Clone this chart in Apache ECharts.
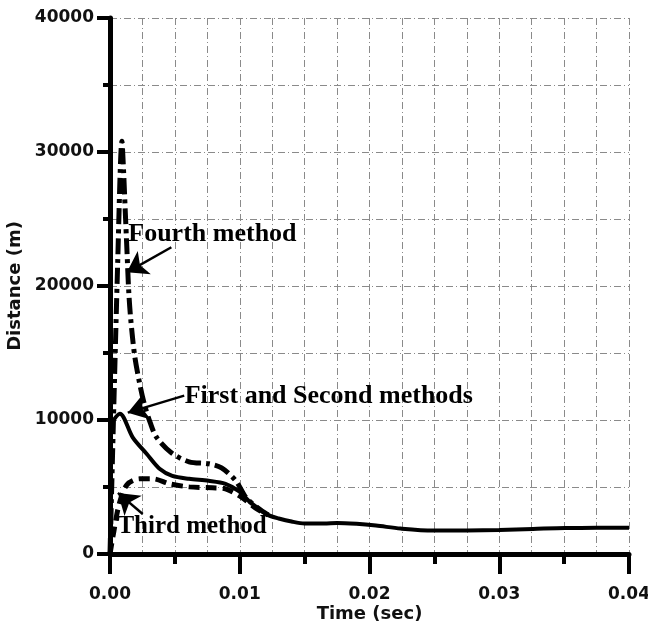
<!DOCTYPE html>
<html>
<head>
<meta charset="utf-8">
<title>Distance vs Time</title>
<script src="https://cdn.jsdelivr.net/npm/echarts@6/dist/echarts.min.js"></script>
<style>
  html, body { margin: 0; padding: 0; background: #fff; }
  #e1 { width: 648px; height: 626px; }
</style>
</head>
<body>
<div id="e1"></div>
<script>
// axis ticks
var xTicks = [0, 0.01, 0.02, 0.03, 0.04];
var yTicks = [0, 10000, 20000, 30000, 40000];

// First and Second methods (solid)
var solidT = [0, 0.00076, 0.00176, 0.00282, 0.00382, 0.0048, 0.0061, 0.0076, 0.0089, 0.0099, 0.0107, 0.0115, 0.0122, 0.0130, 0.0140, 0.0150, 0.0165, 0.0175, 0.0190, 0.0205, 0.0224, 0.0249, 0.0275, 0.0300, 0.0326, 0.0351, 0.0375, 0.0400];
var solidD = [9600, 10470, 8680, 7480, 6360, 5830, 5610, 5460, 5240, 4710, 3960, 3350, 2900, 2650, 2420, 2280, 2280, 2320, 2250, 2120, 1900, 1750, 1760, 1800, 1870, 1940, 1950, 1950];

// Fourth method (dash dot)
var fourthT = [0, 0.0006, 0.00092, 0.00105, 0.00118, 0.0013, 0.00145, 0.0016, 0.0019, 0.00229, 0.00267, 0.0031, 0.00359, 0.00473, 0.0061, 0.0076, 0.0086, 0.0097, 0.0105, 0.0114, 0.0122];
var fourthD = [0, 22000, 30800, 28500, 25500, 22800, 19500, 17500, 14800, 12700, 11100, 9800, 8700, 7550, 6880, 6730, 6430, 5460, 4190, 3440, 2900];

// Third method (dashed)
var thirdT = [0, 0.0003, 0.0007, 0.0013, 0.00229, 0.0033, 0.0046, 0.0061, 0.0079, 0.0089, 0.0101, 0.0112, 0.0122];
var thirdD = [0, 1700, 3700, 5160, 5610, 5610, 5240, 5010, 4940, 4860, 4260, 3440, 2900];

// annotations: text anchor (left edge), arrow start and arrow tip
var noteText = ['Fourth method', 'First and Second methods', 'Third method'];
var noteAt = [[0.00137, 23860], [0.00572, 11740], [0.00053, 2020]];
var arrowFrom = [[0.00473, 22890], [0.00572, 11820], [0.00252, 2990]];
var arrowTo = [[0.0013, 21020], [0.00137, 10550], [0.00061, 4560]];

function pairs(t, d) {
  var out = [];
  for (var i = 0; i < t.length; i++) {
    out.push([t[i], d[i]]);
  }
  return out;
}

var gridStyle = { color: '#8a8a8a', width: 1, type: [7, 3, 1, 3] };
var tickFont = { fontFamily: 'DejaVu Sans', fontWeight: 'bold', fontSize: 17, color: '#111' };

var arrows = [];
var notes = [];
for (var i = 0; i < noteText.length; i++) {
  arrows.push([{ coord: arrowFrom[i] }, { coord: arrowTo[i] }]);
  notes.push({
    coord: noteAt[i],
    symbol: 'rect',
    symbolSize: 1,
    itemStyle: { color: 'rgba(0,0,0,0)' },
    label: {
      show: true,
      position: 'right',
      distance: 0,
      formatter: noteText[i],
      fontFamily: 'Liberation Serif',
      fontWeight: 'bold',
      fontSize: i == 2 ? 25 : 26,
      color: '#000'
    }
  });
}

var chart = echarts.init(document.getElementById('e1'));
chart.setOption({
  animation: false,
  backgroundColor: '#fff',
  grid: { left: 110, right: 19, top: 18, bottom: 72, containLabel: false, outerBoundsMode: 'none' },
  xAxis: [{
    type: 'value',
    min: xTicks[0],
    max: xTicks[xTicks.length - 1],
    interval: 0.01,
    name: 'Time (sec)',
    nameLocation: 'middle',
    nameGap: 51,
    nameMoveOverlap: false,
    nameTextStyle: { fontFamily: 'DejaVu Sans', fontWeight: 'bold', fontSize: 18, color: '#111' },
    axisLine: { show: true, lineStyle: { color: '#000', width: 5 } },
    axisTick: { show: true, length: 20, lineStyle: { color: '#000', width: 4 } },
    minorTick: { show: true, splitNumber: 2, length: 10, lineStyle: { color: '#000', width: 4 } },
    axisLabel: Object.assign({ margin: 32, formatter: function (v) { return v.toFixed(2); } }, tickFont),
    splitLine: { show: false }
  }, {
    // vertical grid every 0.0025
    type: 'value',
    min: xTicks[0],
    max: xTicks[xTicks.length - 1],
    interval: 0.0025,
    position: 'bottom',
    axisLine: { show: false },
    axisTick: { show: false },
    axisLabel: { show: false },
    splitLine: { show: true, lineStyle: gridStyle }
  }],
  yAxis: {
    type: 'value',
    min: yTicks[0],
    max: yTicks[yTicks.length - 1],
    interval: 10000,
    name: 'Distance (m)',
    nameLocation: 'middle',
    nameGap: 83,
    nameTextStyle: { fontFamily: 'DejaVu Sans', fontWeight: 'bold', fontSize: 18, color: '#111' },
    axisLine: { show: true, lineStyle: { color: '#000', width: 5 } },
    axisTick: { show: true, length: 13, lineStyle: { color: '#000', width: 4 } },
    minorTick: { show: true, splitNumber: 2, length: 7, lineStyle: { color: '#000', width: 4 } },
    axisLabel: Object.assign({ margin: 16, formatter: function (v) { return String(v); } }, tickFont),
    splitLine: { show: true, lineStyle: gridStyle },
    minorSplitLine: { show: true, lineStyle: gridStyle }
  },
  series: [{
    name: 'Fourth method',
    type: 'line',
    data: pairs(fourthT, fourthD),
    showSymbol: false,
    smooth: 0.3,
    lineStyle: { color: '#000', width: 5, type: [16, 5, 4, 5] },
    z: 3
  }, {
    name: 'Third method',
    type: 'line',
    data: pairs(thirdT, thirdD),
    showSymbol: false,
    smooth: 0.3,
    lineStyle: { color: '#000', width: 5, type: [11, 6] },
    z: 3
  }, {
    name: 'First and Second methods',
    type: 'line',
    data: pairs(solidT, solidD),
    showSymbol: false,
    smooth: 0.3,
    lineStyle: { color: '#000', width: 4 },
    z: 4
  }, {
    name: 'notes',
    type: 'line',
    data: [],
    silent: true,
    markLine: {
      silent: true,
      animation: false,
      symbol: ['none', 'arrow'],
      symbolSize: 20,
      label: { show: false },
      lineStyle: { color: '#000', width: 2.5, type: 'solid' },
      data: arrows
    },
    markPoint: {
      silent: true,
      animation: false,
      data: notes
    },
    z: 5
  }]
});
</script>
</body>
</html>
